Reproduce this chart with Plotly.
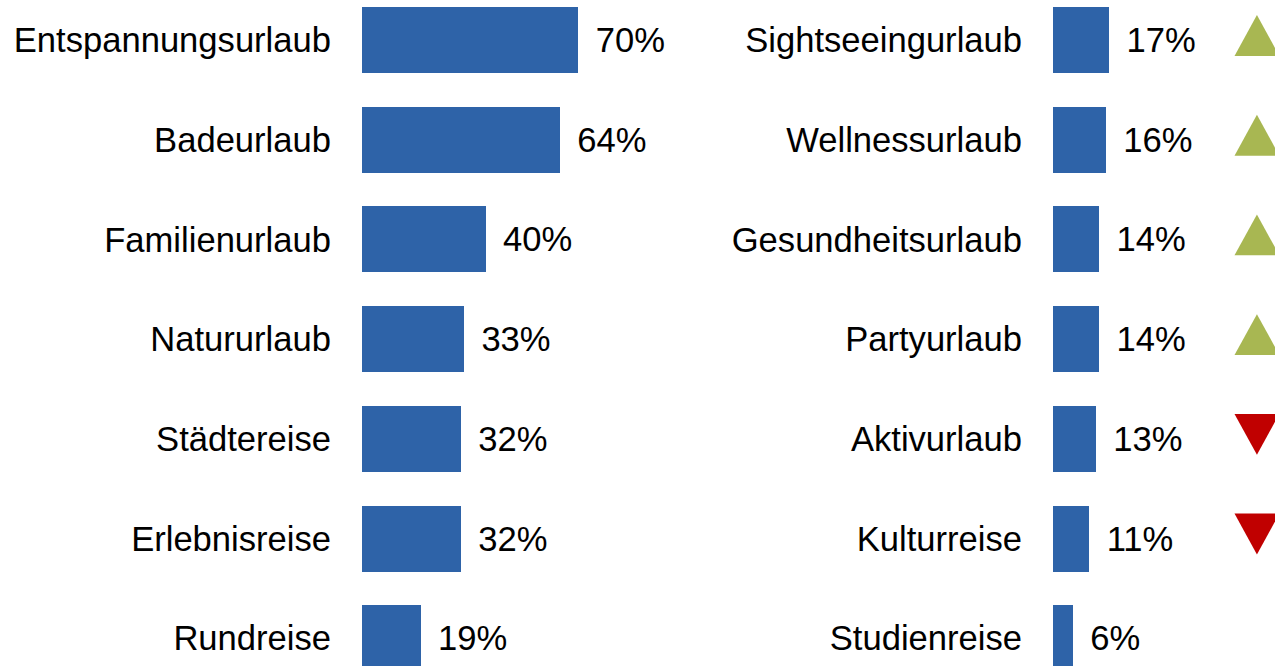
import plotly.graph_objects as go

left_cats = ["Entspannungsurlaub", "Badeurlaub", "Familienurlaub", "Natururlaub",
             "Städtereise", "Erlebnisreise", "Rundreise"]
left_vals = [70, 64, 40, 33, 32, 32, 19]

right_cats = ["Sightseeingurlaub", "Wellnessurlaub", "Gesundheitsurlaub", "Partyurlaub",
              "Aktivurlaub", "Kulturreise", "Studienreise"]
right_vals = [17, 16, 14, 14, 13, 11, 6]
right_trend = ["up", "up", "up", "up", "down", "down", None]

BAR = "#2E63A8"
UP = "#A8B752"
DOWN = "#C00000"
FONT = "Liberation Sans, Arial, sans-serif"
FS = 34.6
W, H = 1275, 666

fig = go.Figure()

def bar_trace(vals, xa, ya):
    idx = list(range(len(vals)))
    return go.Bar(
        x=vals, y=idx, orientation="h", width=0.662,
        marker=dict(color=BAR, line=dict(width=0)),
        text=[f"\u2005\u2006{v}%" for v in vals], textposition="outside",
        textfont=dict(family=FONT, size=FS, color="black"),
        constraintext="none", cliponaxis=False,
        xaxis=xa, yaxis=ya, hoverinfo="skip", showlegend=False,
    )

fig.add_trace(bar_trace(left_vals, "x", "y"))
fig.add_trace(bar_trace(right_vals, "x2", "y2"))

# trend triangles in the right panel
tri_x = 61.8
half_w = 6.8
for i, t in enumerate(right_trend):
    if t is None:
        continue
    top, bot = i - 0.25, i + 0.16
    if t == "up":
        xs = [tri_x - half_w, tri_x + half_w, tri_x, tri_x - half_w]
        ys = [bot, bot, top, bot]
        col = UP
    else:
        xs = [tri_x - half_w, tri_x + half_w, tri_x, tri_x - half_w]
        ys = [top, top, bot, top]
        col = DOWN
    fig.add_trace(go.Scatter(
        x=xs, y=ys, mode="lines", fill="toself", fillcolor=col,
        line=dict(width=0, color=col), xaxis="x2", yaxis="y2",
        hoverinfo="skip", showlegend=False,
    ))

left_start, left_scale = 362, 3.09
left_end = 700
right_start, right_scale = 1053, 3.3

yrange = [(H - 40) / 99.7, -40 / 99.7]

fig.update_layout(
    width=W, height=H,
    margin=dict(l=0, r=0, t=0, b=0),
    paper_bgcolor="white", plot_bgcolor="white",
    bargap=0,
    xaxis=dict(domain=[left_start / W, left_end / W],
               range=[0, (left_end - left_start) / left_scale],
               visible=False, fixedrange=True),
    xaxis2=dict(domain=[right_start / W, 1.0],
                range=[0, (W - right_start) / right_scale],
                visible=False, fixedrange=True),
    yaxis=dict(anchor="x", range=yrange, tickvals=list(range(len(left_cats))),
               ticktext=left_cats, showgrid=False, zeroline=False, showline=False,
               ticks="", ticklabelstandoff=30, fixedrange=True,
               tickfont=dict(family=FONT, size=FS, color="black")),
    yaxis2=dict(anchor="x2", range=yrange, tickvals=list(range(len(right_cats))),
                ticktext=right_cats, showgrid=False, zeroline=False, showline=False,
                ticks="", ticklabelstandoff=30, fixedrange=True,
                tickfont=dict(family=FONT, size=FS, color="black")),
)

fig.write_html("out.html",
               config={"displayModeBar": False, "staticPlot": True},
               post_script="document.body.style.margin='0';document.body.style.overflow='hidden';")
